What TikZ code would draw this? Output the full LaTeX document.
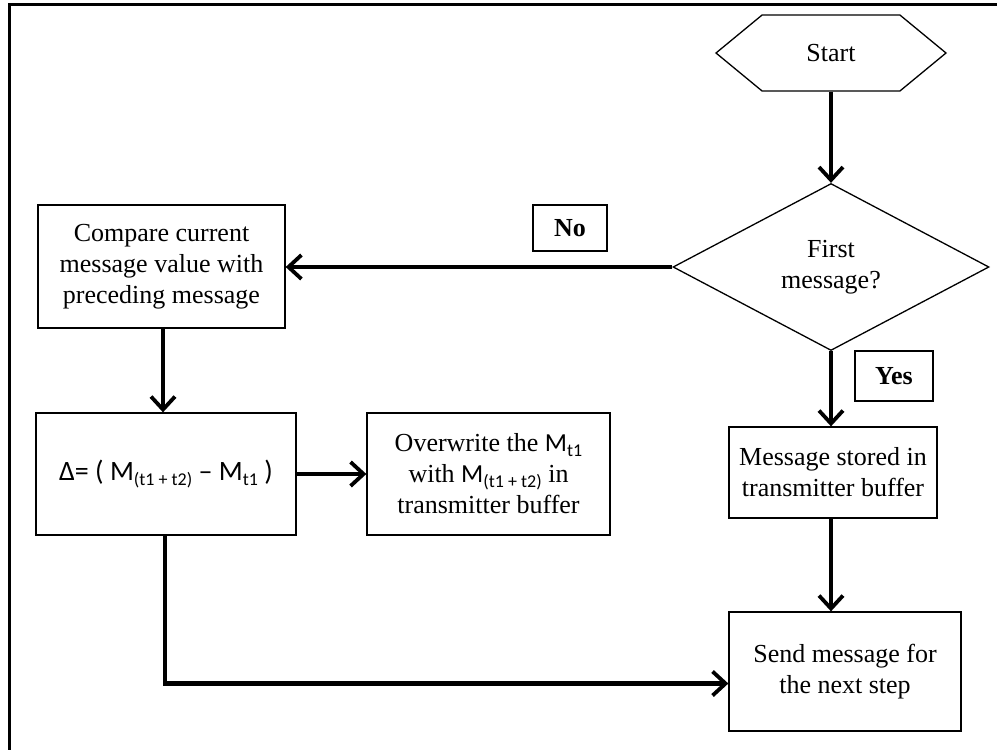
\documentclass[tikz,border=0pt]{standalone}
\usepackage{fontspec}
\setmainfont{Liberation Serif}
\newfontfamily\calibri{Carlito}
\usetikzlibrary{arrows.meta,shapes.geometric,shapes.symbols}
\newcommand{\lowsub}[1]{\raisebox{-5pt}{\fontsize{18}{18}\selectfont #1}}
\begin{document}
\begin{tikzpicture}[x=1pt,y=-1pt,
  box/.style={draw, line width=1.3pt, align=center, inner sep=0pt,
    font=\fontsize{26}{31}\selectfont},
  tag/.style={draw, line width=1.3pt, inner sep=0pt,
    font=\bfseries\fontsize{26}{31}\selectfont},
  flow/.style={line width=4.8pt,
    -{Straight Barb[length=13pt,width=24pt,line width=3.8pt]}}]
\useasboundingbox (0,0) rectangle (997,750);
% outer frame
\draw[line width=3pt] (9,750) -- (9,4) -- (997,4);

% nodes
\node[box, signal, signal to=east and west, signal pointer angle=79,
  minimum width=230pt, minimum height=76pt] (start) at (831,53) {Start};
\node[box, diamond, minimum width=316pt, minimum height=167pt] (dia) at (831,267)
  {First\\message?};
\node[box, minimum width=247pt, minimum height=123pt] (cmp) at (161.5,266.5)
  {Compare current\\message value with\\preceding message};
\node[box, minimum width=260pt, minimum height=122pt] (delta) at (166,474)
  {{\calibri\fontsize{28}{31}\selectfont Δ= ( M\lowsub{(t1 + t2)} – M\lowsub{t1} )}};
\node[box, minimum width=243pt, minimum height=122pt] (over) at (488.5,474)
  {Overwrite the {\calibri M\lowsub{t1}}\\with {\calibri M\lowsub{(t1 + t2)}} in\\transmitter buffer};
\node[box, minimum width=208pt, minimum height=91pt] (stored) at (833,472.5)
  {Message stored in\\transmitter buffer};
\node[box, minimum width=232pt, minimum height=119pt] (send) at (845,671.5)
  {Send message for\\the next step};
\node[tag, minimum width=74pt, minimum height=46pt] (no) at (570,228) {No};
\node[tag, minimum width=78pt, minimum height=50pt] (yes) at (894,376) {Yes};

% connectors
\draw[flow] (start.south) -- (dia.north);
\draw[flow] (dia.west) -- (cmp.east |- dia.west);
\draw[flow] (dia.south) -- (dia.south |- stored.north);
\draw[flow] (dia.south |- stored.south) -- (dia.south |- send.north);
\draw[flow] ([xshift=1.5pt]cmp.south) -- ([xshift=1.5pt]cmp.south |- delta.north);
\draw[flow] (delta.east) -- (over.west);
\draw[flow] ([xshift=-1pt]delta.south) |- ([yshift=-12pt]send.west);
\end{tikzpicture}
\end{document}
